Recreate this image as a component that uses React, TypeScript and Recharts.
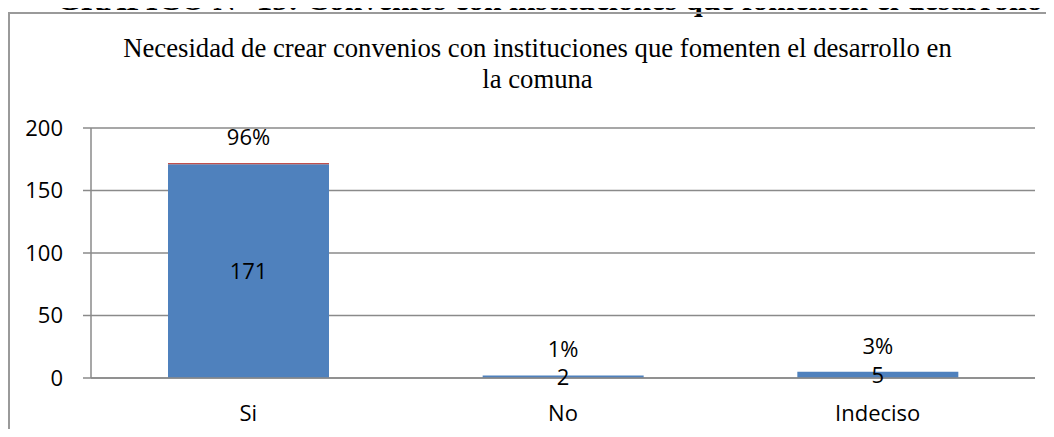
import React from "react";
import {
  BarChart,
  Bar,
  XAxis,
  YAxis,
  CartesianGrid,
  LabelList,
} from "recharts";

const categories = ["Si", "No", "Indeciso"];
const counts = [171, 2, 5];
const shares = [0.96, 0.01, 0.03];
const yTicks = [0, 50, 100, 150, 200];

const pageTitle =
  "GRAFICO N° 15: Convenios con instituciones que fomenten el desarrollo";
const chartTitle = [
  "Necesidad de crear convenios con instituciones que fomenten el desarrollo en",
  "la comuna",
];

const data = categories.map((name, i) => ({
  name,
  count: counts[i],
  share: shares[i],
}));

const W = 1054;
const H = 437;
const GRID = "#8a8a8a";
const LABEL_FONT = "'Open Sans', 'Noto Sans', sans-serif";
const TITLE_FONT = "'Liberation Serif', 'DejaVu Serif', serif";

const pct = (v: unknown) => `${Math.round(Number(v) * 100)}%`;

export default function App() {
  return (
    <div
      style={{
        position: "relative",
        width: W,
        height: H,
        margin: -8,
        overflow: "hidden",
        background: "#fff",
      }}
    >
      {/* report heading, only its lower part is inside the crop */}
      <div
        style={{
          position: "absolute",
          left: 0,
          top: -16,
          width: 1099,
          height: 31,
          lineHeight: "31px",
          fontFamily: TITLE_FONT,
          fontWeight: "bold",
          fontSize: 31.5,
          whiteSpace: "nowrap",
          textAlign: "center",
          color: "#000",
        }}
      >
        {pageTitle}
      </div>
      {/* frame of the embedded chart, runs off the right and bottom */}
      <div
        style={{
          position: "absolute",
          left: 8,
          top: 12,
          width: W + 20,
          height: H + 20,
          border: `2px solid #9a9a9a`,
          boxSizing: "border-box",
        }}
      />
      <BarChart
        width={W}
        height={H}
        data={data}
        margin={{ top: 128, right: 19, bottom: 29, left: 0 }}
        style={{ position: "absolute", left: 0, top: 0 }}
      >
        <CartesianGrid vertical={false} stroke={GRID} strokeWidth={1.5} />
        <XAxis
          dataKey="name"
          height={30}
          axisLine={{ stroke: GRID, strokeWidth: 1.5 }}
          tickLine={false}
          tickSize={0}
          tickMargin={27}
          tick={{ fill: "#000", fontSize: 22, fontFamily: LABEL_FONT }}
        />
        <YAxis
          width={91}
          domain={[0, 200]}
          ticks={yTicks}
          interval={0}
          axisLine={{ stroke: GRID, strokeWidth: 1.5 }}
          tickLine={{ stroke: GRID, strokeWidth: 1.5 }}
          tickSize={8}
          tickMargin={20}
          tick={{ fill: "#000", fontSize: 22, fontFamily: LABEL_FONT }}
        />
        <Bar
          dataKey="count"
          stackId="a"
          fill="#4F81BD"
          barSize={161}
          isAnimationActive={false}
        >
          <LabelList
            dataKey="count"
            position="center"
            fill="#000"
            fontSize={22}
            fontFamily={LABEL_FONT}
          />
        </Bar>
        <Bar
          dataKey="share"
          stackId="a"
          fill="#C0504D"
          barSize={161}
          isAnimationActive={false}
        >
          <LabelList
            dataKey="share"
            position="top"
            offset={18}
            formatter={pct}
            fill="#000"
            fontSize={22}
            fontFamily={LABEL_FONT}
          />
        </Bar>
      </BarChart>
      <svg
        width={W}
        height={H}
        style={{ position: "absolute", left: 0, top: 0, pointerEvents: "none" }}
      >
        <text
          x={537.5}
          y={57}
          textAnchor="middle"
          fontFamily={TITLE_FONT}
          fontSize={26.7}
          fill="#000"
        >
          {chartTitle[0]}
        </text>
        <text
          x={537.5}
          y={88}
          textAnchor="middle"
          fontFamily={TITLE_FONT}
          fontSize={26.7}
          fill="#000"
        >
          {chartTitle[1]}
        </text>
      </svg>
    </div>
  );
}
